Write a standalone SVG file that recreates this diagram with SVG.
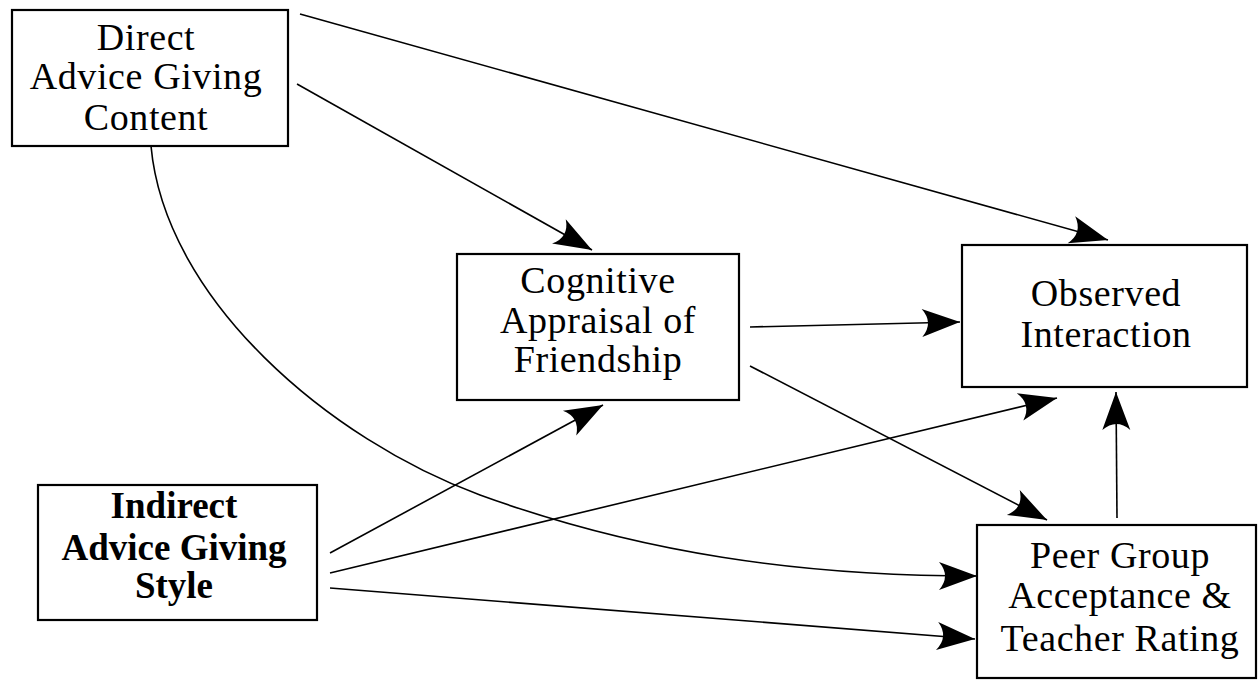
<svg xmlns="http://www.w3.org/2000/svg" width="1258" height="680" viewBox="0 0 1258 680">
<style>
.box{fill:#fff;stroke:#000;stroke-width:2.2}
.t{font-family:"Liberation Serif","Times New Roman",serif;font-size:38px;letter-spacing:0.6px;fill:#000;text-anchor:middle}
.tb{font-family:"Liberation Serif","Times New Roman",serif;font-size:37px;font-weight:bold;fill:#000;text-anchor:middle}
.c{fill:none;stroke:#000;stroke-width:1.6}
</style>
<defs>
<marker id="ah" markerUnits="userSpaceOnUse" markerWidth="42" markerHeight="34" viewBox="-40 -17 42 34" refX="0" refY="0" orient="auto">
<path d="M0,0 L-38,-14 Q-26,0 -38,14 Z" fill="#000"/>
</marker>
</defs>
<rect width="1258" height="680" fill="#fff"/>
<g id="connectors">
<path class="c" d="M300,14 L1108,240" marker-end="url(#ah)"/>
<path class="c" d="M297,84 L592,250" marker-end="url(#ah)"/>
<path class="c" d="M151,146 C165,300 330,440 480,495 C640,553 800,576 977,576" marker-end="url(#ah)"/>
<path class="c" d="M750,327 L960,322" marker-end="url(#ah)"/>
<path class="c" d="M750,366 L1047,520" marker-end="url(#ah)"/>
<path class="c" d="M330,553 L603,405" marker-end="url(#ah)"/>
<path class="c" d="M330,573 L1057,398" marker-end="url(#ah)"/>
<path class="c" d="M330,588 L975,639" marker-end="url(#ah)"/>
<path class="c" d="M1117,518 L1116,392" marker-end="url(#ah)"/>
</g>
<g id="direct">
<rect class="box" x="12" y="10" width="276" height="136"/>
<text class="t" x="146" y="50">Direct</text>
<text class="t" x="146" y="89">Advice Giving</text>
<text class="t" x="146" y="130">Content</text>
</g>
<g id="cognitive">
<rect class="box" x="457" y="254" width="282" height="146"/>
<text class="t" x="598" y="293">Cognitive</text>
<text class="t" x="598" y="333">Appraisal of</text>
<text class="t" x="598" y="372">Friendship</text>
</g>
<g id="observed">
<rect class="box" x="962" y="245" width="285" height="142"/>
<text class="t" x="1106" y="306">Observed</text>
<text class="t" x="1106" y="347">Interaction</text>
</g>
<g id="peer">
<rect class="box" x="977" y="525" width="279" height="153"/>
<text class="t" x="1120" y="568">Peer Group</text>
<text class="t" x="1120" y="608">Acceptance &amp;</text>
<text class="t" x="1120" y="651">Teacher Rating</text>
</g>
<g id="indirect">
<rect class="box" x="38" y="485" width="279" height="135"/>
<text class="tb" x="174" y="518">Indirect</text>
<text class="tb" x="174" y="560">Advice Giving</text>
<text class="tb" x="174" y="598">Style</text>
</g>
</svg>
